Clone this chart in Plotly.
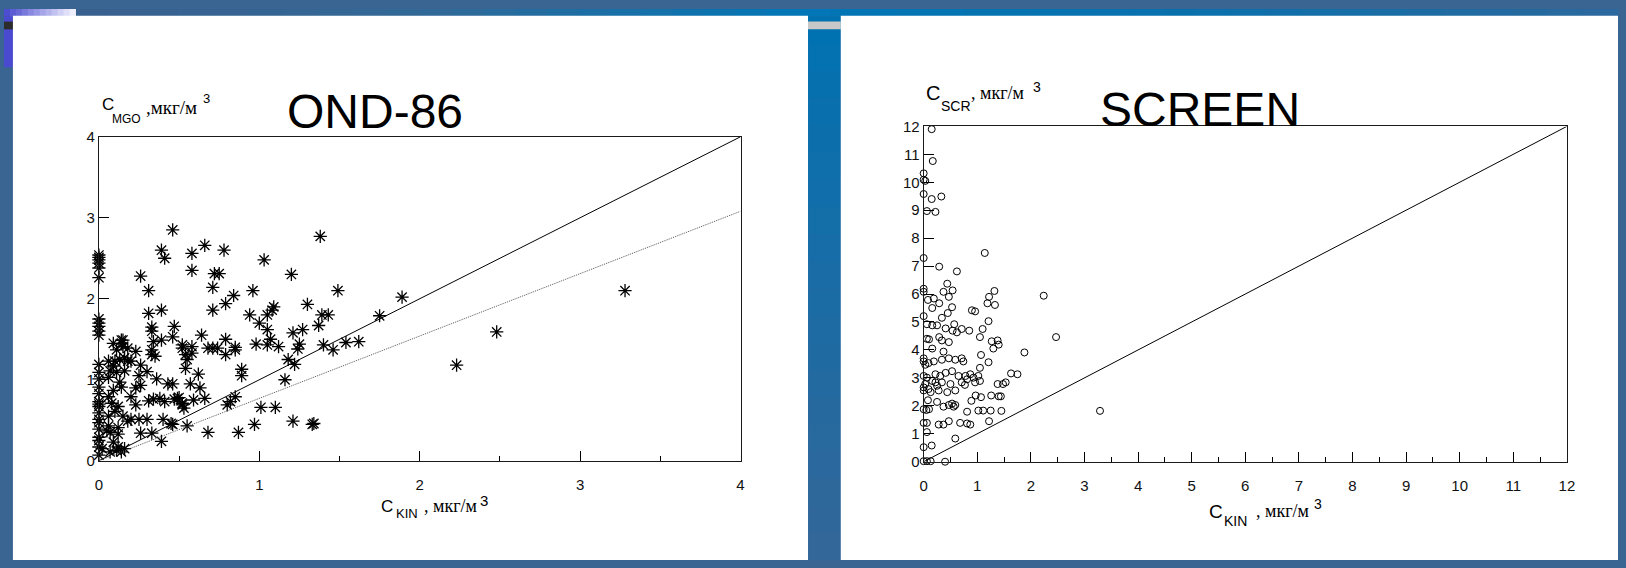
import plotly.graph_objects as go

# ---------------- data ----------------
# OND-86 model vs. kinetic model, мкг/м3
ond_kin = [
    0.46, 0.39, 0.41, 0.26, 0.31, 0.31, 0.39, 0.33, 0.33, 0.47, 0.46, 0.39, 0.34, 0.33, 0.33, 0.35,
    0.23, 0.15, 0.09, 0.15, 0.26, 0.30, 0.25, 0.36, 0.43, 0.46, 0.23, 0.26, 0.31, 0.34, 0.38, 0.41,
    0.47, 0.50, 0.52, 0.53, 0.59, 0.30, 0.40, 0.45, 0.46, 0.55, 0.26, 0.33, 0.39, 0.68, 0.87, 0.97,
    1.01, 1.10, 1.21, 1.33, 1.34, 1.16, 1.18, 1.22, 1.21, 1.27, 1.25, 1.24, 1.12, 1.07, 1.05, 1.05,
    0.98, 1.00, 1.05, 1.08, 1.09, 0.94, 0.96, 1.03, 1.20, 1.30, 1.37, 1.39, 1.43, 1.40, 1.46, 1.38,
    1.49, 1.54, 1.62, 1.75, 1.89, 2.23, 2.48, 3.28,
    0.58, 0.58, 0.66, 0.78, 0.72, 0.75, 0.71, 0.71, 0.79, 0.84, 0.52, 0.52, 0.54, 0.58, 0.58, 0.64,
    0.68, 0.71, 0.74, 0.79, 0.79, 0.85, 0.85, 0.55, 0.54, 0.62, 0.57, 0.63, 0.66, 0.89, 0.89, 0.80,
    0.82, 0.85, 0.49, 0.52,
    0.00, 0.00, 0.00, 0.00, 0.00, 0.00, 0.00, 0.00, 0.00, 0.00, 0.00, 0.00, 0.00, 0.00, 0.00, 0.00,
    0.00, 0.00, 0.00, 0.00, 0.00, 0.00, 0.00, 0.00, 0.00, 0.00, 0.00,
    0.14, 0.14, 0.18, 0.11, 0.10, 0.13, 0.16, 0.09, 0.07, 0.11, 0.06, 0.13, 0.14, 0.09, 0.06, 0.08,
    0.12, 0.10, 0.06, 0.15, 0.20, 0.06, 0.12, 0.07, 0.12, 0.09, 0.12, 0.16, 0.07, 0.20, 0.23, 0.25,
    0.20, 0.18, 0.06, 0.16, 0.05, 0.02, 0.14, 0.11, 0.18,
]
ond_mgo = [
    2.85, 2.60, 2.50, 2.28, 2.10, 1.82, 1.86, 1.65, 1.60, 1.66, 1.53, 1.49, 1.47, 1.37, 1.31, 1.29,
    1.35, 1.49, 1.45, 1.41, 1.18, 1.10, 1.05, 1.01, 0.95, 0.95, 0.90, 0.93, 0.74, 0.76, 0.77, 0.73,
    0.76, 0.78, 0.71, 0.65, 0.75, 0.51, 0.51, 0.46, 0.45, 0.43, 0.34, 0.34, 0.24, 0.35, 0.35, 0.45,
    0.66, 0.66, 0.49, 0.45, 0.46, 1.00, 1.25, 1.19, 1.58, 1.62, 1.44, 1.38, 1.41, 1.50, 1.62, 1.43,
    1.44, 1.70, 1.80, 1.86, 1.90, 1.80, 2.10, 2.48, 2.30, 1.93, 1.67, 1.80, 1.80, 1.43, 1.37, 2.77,
    2.10, 1.46, 1.47, 1.79, 2.02, 1.18, 1.59, 2.10,
    2.56, 2.35, 2.66, 2.60, 2.31, 2.31, 2.14, 1.86, 1.94, 2.04, 1.43, 1.39, 1.31, 1.41, 1.33, 1.55,
    1.39, 1.39, 1.39, 1.31, 1.50, 1.37, 1.40, 1.25, 1.14, 1.07, 0.95, 0.90, 0.77, 1.13, 1.05, 0.69,
    0.73, 0.79, 0.77, 0.69,
    2.54, 2.51, 2.48, 2.44, 2.38, 2.26, 1.75, 1.70, 1.66, 1.60, 1.55, 1.19, 1.09, 1.01, 0.91, 0.83,
    0.73, 0.70, 0.67, 0.59, 0.51, 0.47, 0.39, 0.29, 0.25, 0.17, 0.07,
    1.45, 1.49, 1.39, 1.37, 1.23, 1.25, 1.27, 1.17, 1.11, 1.09, 1.03, 0.97, 0.91, 0.87, 0.79, 0.71,
    0.67, 0.61, 0.55, 0.55, 0.51, 0.43, 0.41, 0.35, 0.33, 0.23, 0.17, 0.15, 0.11, 0.79, 0.69, 0.51,
    1.23, 1.23, 1.23, 1.11, 0.37, 0.15, 0.11, 0.13, 0.49,
]
ond_fit_slope = 0.77

# SCREEN model vs. kinetic model, мкг/м3
scr_kin = [
    1.14, 0.29, 0.62, 0.44, 0.37, 0.54, 0.00, 0.00, 0.08, 0.19, 0.16, 0.29, 0.47, 0.53, 0.45, 0.34,
    0.00, 0.06, 0.16, 0.25, 0.41, 0.57, 0.54, 0.71, 0.85, 0.62, 1.10, 1.21, 1.05, 1.27, 1.38, 1.30,
    1.40, 0.96, 0.90, 1.19, 1.33, 1.22, 1.32, 1.88, 0.06, 0.10, 0.29, 0.34, 0.16, 0.37, 0.47, 0.00,
    0.00, 0.03, 0.09, 0.19, 0.34, 0.47, 0.59, 0.71, 0.74, 1.07, 1.21, 1.05, 0.87, 0.78, 0.65, 0.53,
    0.41, 0.31, 0.22, 0.06, 0.00, 0.16, 0.22, 0.03, 0.00, 0.00, 0.09, 0.25, 0.34, 0.50, 0.71, 0.77,
    0.81, 0.93, 0.96, 1.02, 1.05, 1.63, 1.75, 1.38, 1.48, 1.53, 0.13, 0.28, 0.44, 0.59, 0.97, 1.07,
    1.26, 1.40, 1.44, 0.08, 0.25, 0.37, 0.47, 0.53, 0.56, 0.59, 0.89, 0.81, 1.02, 1.11, 1.25, 1.45,
    0.00, 0.05, 0.10, 0.00, 0.06, 0.28, 0.37, 0.47, 0.68, 0.81, 0.87, 1.22, 0.06, 0.59, 0.00, 0.15,
    0.00, 0.06, 0.13, 0.40,
    0.15, 0.17, 0.00, 0.00, 0.03, 0.00, 0.15, 0.33, 0.06, 0.22, 0.00,
    2.24, 2.47, 3.29,
]
scr_scr = [
    7.47, 6.98, 6.81, 6.37, 6.08, 6.13, 6.19, 6.08, 5.79, 5.84, 5.50, 5.67, 5.90, 5.53, 5.32, 5.15,
    5.21, 4.92, 4.88, 4.88, 4.77, 4.92, 4.69, 4.75, 4.69, 4.63, 4.75, 5.03, 4.46, 4.31, 4.34, 4.05,
    4.19, 5.38, 5.42, 5.67, 5.61, 5.90, 6.11, 3.91, 4.40, 4.38, 4.46, 4.34, 4.05, 3.94, 4.28, 3.70,
    3.59, 3.47, 3.53, 3.59, 3.65, 3.70, 3.65, 3.70, 3.59, 3.82, 3.56, 3.36, 3.13, 3.07, 3.07, 3.24,
    3.18, 3.07, 3.13, 3.01, 3.07, 2.89, 2.84, 2.78, 2.66, 2.55, 2.60, 2.72, 2.84, 2.78, 2.84, 2.75,
    2.95, 3.01, 2.84, 3.07, 2.89, 3.16, 3.13, 2.78, 2.78, 2.84, 2.49, 2.55, 2.49, 2.55, 2.37, 2.31,
    2.37, 2.34, 2.34, 2.20, 2.14, 1.97, 2.03, 2.08, 1.97, 2.03, 2.18, 1.79, 1.83, 1.83, 1.83, 1.82,
    1.88, 1.85, 1.88, 1.39, 1.39, 1.33, 1.33, 1.45, 1.39, 1.37, 1.33, 1.45, 1.06, 0.83, 0.52, 0.58,
    0.02, 0.02, 0.02, 0.00,
    11.90, 10.76, 10.32, 10.09, 10.05, 9.58, 9.40, 9.49, 8.97, 8.94, 7.29,
    5.94, 4.46, 1.82,
]

ond_range = [0, 4]
scr_range = [0, 12]

# ---------------- page geometry ----------------
W, H = 1626, 568


def fx(p):
    return p / W


def fy(p):
    return 1 - p / H


AX = "#1a1a1a"
SANS = "Liberation Sans, Arial, sans-serif"
SERIF = "Liberation Serif, Times New Roman, serif"

fig = go.Figure()

# left panel: OND-86 points, 1:1 line and fitted line
fig.add_trace(go.Scatter(
    x=ond_kin, y=ond_mgo, mode="markers", xaxis="x", yaxis="y", cliponaxis=False,
    marker=dict(symbol="asterisk-open", size=11, color="black", line=dict(width=1.3, color="black")),
))
fig.add_trace(go.Scatter(
    x=ond_range, y=ond_range, mode="lines", xaxis="x", yaxis="y",
    line=dict(color="black", width=1),
))
fig.add_trace(go.Scatter(
    x=ond_range, y=[v * ond_fit_slope for v in ond_range], mode="lines", xaxis="x", yaxis="y",
    line=dict(color="#555", width=1, dash="1px,1px"),
))
# right panel: SCREEN points and 1:1 line
fig.add_trace(go.Scatter(
    x=scr_kin, y=scr_scr, mode="markers", xaxis="x2", yaxis="y2", cliponaxis=False,
    marker=dict(symbol="circle-open", size=7, color="black", line=dict(width=1, color="black")),
))
fig.add_trace(go.Scatter(
    x=scr_range, y=scr_range, mode="lines", xaxis="x2", yaxis="y2",
    line=dict(color="black", width=1),
))


def major_axis(domain, rng, anchor):
    return dict(
        domain=domain, range=rng, anchor=anchor, dtick=1, tick0=0,
        ticks="inside", ticklen=10, tickwidth=1, tickcolor="black",
        showline=True, linecolor=AX, linewidth=1, mirror=True,
        showgrid=False, zeroline=False, fixedrange=True,
        tickfont=dict(family=SANS, size=15, color="#111"),
    )


def x_axis(domain, rng, anchor):
    d = major_axis(domain, rng, anchor)
    d["ticklabelstandoff"] = 10
    d["minor"] = dict(dtick=0.5, ticks="inside", ticklen=5)
    return d


def half_step_axis(rng, anchor, overlaying):
    # unlabeled axis carrying the short half-unit ticks
    return dict(
        range=rng, anchor=anchor, overlaying=overlaying, side="left", dtick=0.5, tick0=0,
        ticks="inside", ticklen=5, tickwidth=1, tickcolor="black",
        showticklabels=False, showline=False, showgrid=False, zeroline=False, fixedrange=True,
    )


xa1 = x_axis([fx(95.6), fx(742)], ond_range, "y")
ya1 = major_axis([fy(465.7), fy(131.7)], ond_range, "x")
xa2 = x_axis([fx(926.5), fx(1574.5)], scr_range, "y2")
ya2 = major_axis([fy(466.7), fy(121)], scr_range, "x2")
ya3 = half_step_axis(ond_range, "x", "y")
ya4 = half_step_axis(scr_range, "x2", "y2")

# ---------------- slide background ----------------
shapes = []


def rect(x0, y0, x1, y1, color):
    shapes.append(dict(type="rect", xref="paper", yref="paper", layer="below",
                       x0=fx(x0), x1=fx(x1), y0=fy(y1), y1=fy(y0),
                       fillcolor=color, line=dict(width=0)))


def lerp(c0, c1, t):
    return "#%02x%02x%02x" % tuple(int(round(a + (b - a) * t)) for a, b in zip(c0, c1))


rect(0, 0, W, H, "#3a6593")
band_stops = [(0, (58, 94, 140)), (420, (50, 104, 150)), (800, (2, 118, 182)),
              (1200, (10, 112, 172)), (1626, (44, 104, 156))]
for (xa, ca), (xb, cb) in zip(band_stops[:-1], band_stops[1:]):
    n = 12
    for i in range(n):
        t0 = xa + (xb - xa) * i / n
        t1 = xa + (xb - xa) * (i + 1) / n + 0.5
        rect(t0, 0, t1, 8, lerp(ca, cb, (i + 0.5) / n))
for i in range(12):
    rect(72 * i / 12, 0, 72 * (i + 1) / 12 + 0.5, 8, lerp((70, 70, 205), (245, 245, 255), (i + 0.5) / 12))
rect(0, 8, 9, 60, "#4a4ad0")
rect(0, 13, 9, 21, "#2c2c2c")
for i in range(20):
    y0 = 8 + (H - 8) * i / 20
    y1 = 8 + (H - 8) * (i + 1) / 20 + 0.5
    rect(810, y0, 843, y1, lerp((0, 114, 178), (52, 102, 152), (i + 0.5) / 20))
rect(810, 13, 843, 21, "#c8c8c8")
rect(9, 7, 810, H, "#ffffff")
rect(843, 7, W, H, "#ffffff")

# ---------------- texts ----------------
annotations = []


def txt(x, y, s, size, family=SANS, xanchor="left"):
    annotations.append(dict(text=s, x=fx(x), y=fy(y), xref="paper", yref="paper",
                            xanchor=xanchor, yanchor="middle", showarrow=False,
                            font=dict(family=family, size=size, color="black")))


txt(374, 106, "OND-86", 48, xanchor="center")
txt(1205, 104, "SCREEN", 48, xanchor="center")

# left y label
txt(97, 98, "C", 17)
txt(107, 113, "MGO", 12)
txt(141, 102, ",мкг/м", 19, SERIF)
txt(198, 92, "3", 13)
# left x label
txt(378, 513, "C", 17)
txt(393, 520, "KIN", 13)
txt(421, 512, ", мкг/м", 18, SERIF)
txt(478, 507, "3", 15)
# right y label
txt(927, 87, "C", 20)
txt(942, 100, "SCR", 14)
txt(972, 87, ", мкг/м", 18, SERIF)
txt(1035, 80, "3", 14)
# right x label
txt(1212, 518, "C", 19)
txt(1227, 528, "KIN", 14)
txt(1259, 518, ", мкг/м", 18, SERIF)
txt(1318, 510, "3", 14)

fig.update_layout(
    width=W, height=H, autosize=False,
    margin=dict(l=0, r=0, t=0, b=0, pad=0),
    paper_bgcolor="#3a6593", plot_bgcolor="rgba(0,0,0,0)",
    showlegend=False,
    xaxis=xa1, yaxis=ya1, xaxis2=xa2, yaxis2=ya2,
    yaxis3=ya3, yaxis4=ya4,
    shapes=shapes, annotations=annotations,
)

fig.write_html("out.html", config={"displayModeBar": False})
